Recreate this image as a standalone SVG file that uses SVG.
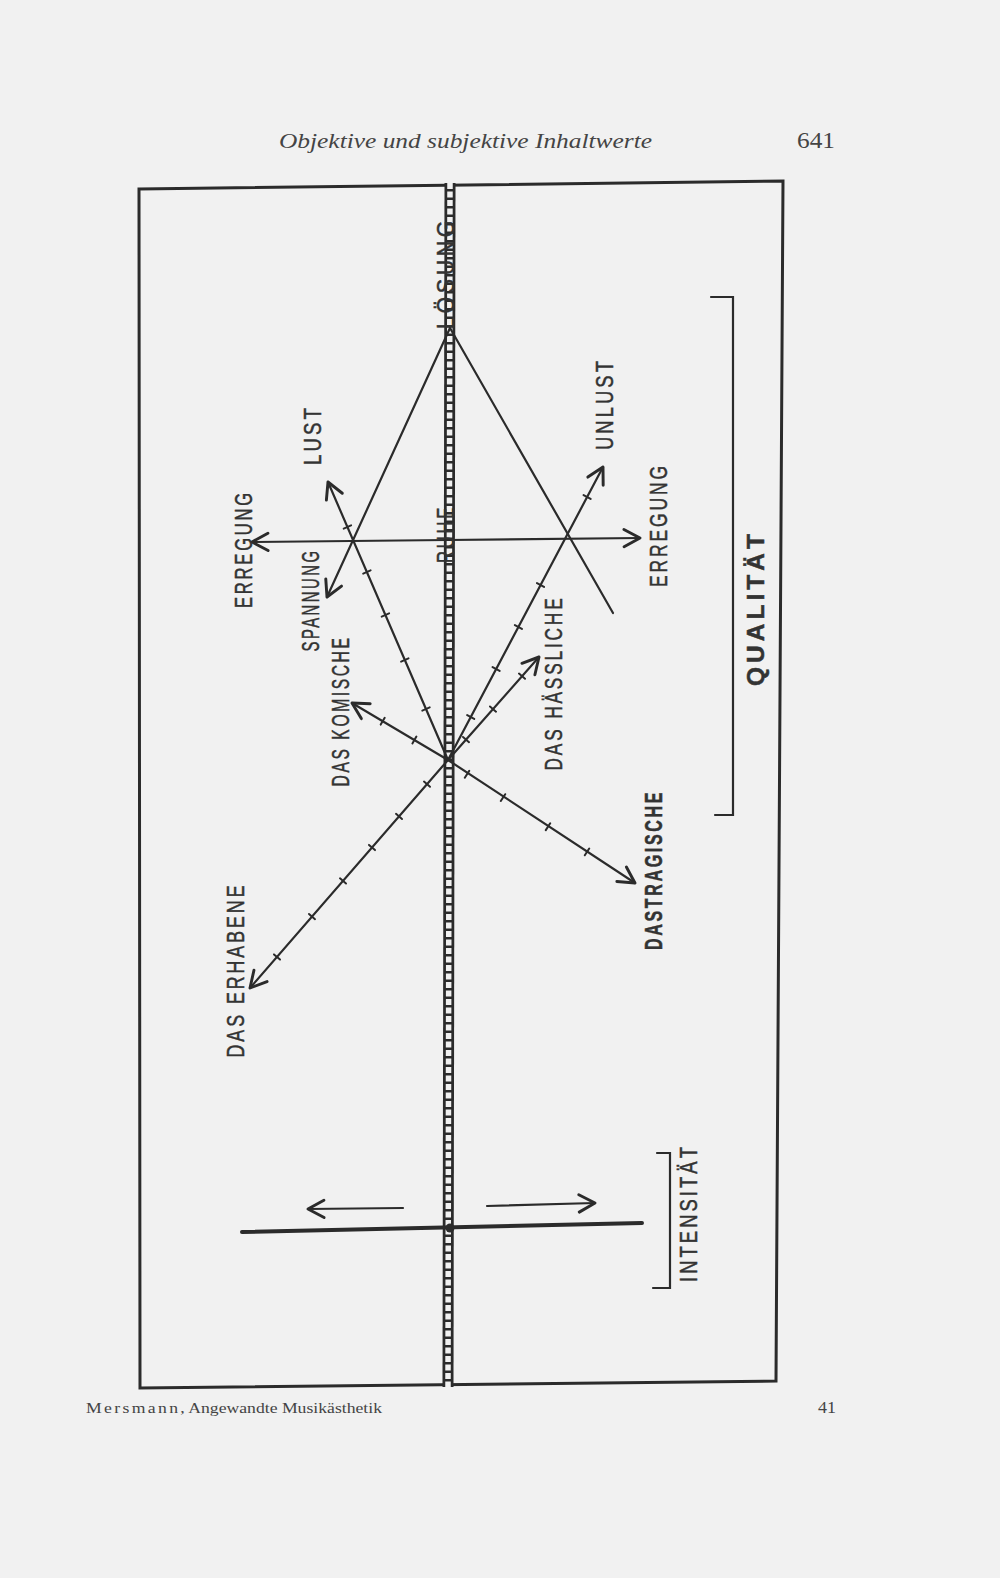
<svg xmlns="http://www.w3.org/2000/svg" width="1000" height="1578" viewBox="0 0 1000 1578">
<defs>
<style>
.ln{fill:none;stroke:#2b2b2b;stroke-width:2.2;stroke-linecap:round}
.tk{fill:none;stroke:#2b2b2b;stroke-width:2;stroke-linecap:round}
.lbl{font-family:"Liberation Sans","DejaVu Sans",sans-serif;font-size:24px;letter-spacing:4px;fill:#333;stroke:#333;stroke-width:0.5px;text-anchor:middle}
.hd{font-family:"Liberation Serif","DejaVu Serif",serif;fill:#444}
</style>
<marker id="arr" markerUnits="userSpaceOnUse" markerWidth="24" markerHeight="24" viewBox="-14 -9 16 18" refX="0" refY="0" orient="auto">
<path d="M-12,-6.5 L0,0 L-12,6.5" fill="none" stroke="#2b2b2b" stroke-width="2.2" stroke-linecap="round" stroke-linejoin="round"/>
</marker>
</defs>
<rect width="1000" height="1578" fill="#f1f1f1"/>

<g id="header">
<text class="hd" x="279" y="148" font-size="21" font-style="italic" textLength="373" lengthAdjust="spacingAndGlyphs">Objektive und subjektive Inhaltwerte</text>
<text class="hd" x="797" y="148" font-size="23" textLength="38" lengthAdjust="spacingAndGlyphs">641</text>
</g>

<g id="frame">
<polygon points="139,189 783,181 776,1381 140,1388" fill="none" stroke="#2b2b2b" stroke-width="3"/>
</g>

<g id="ladder">
<line x1="450" y1="183" x2="448" y2="1387" stroke="#2b2b2b" stroke-width="11"/>
<line x1="450" y1="183" x2="448" y2="1387" stroke="#f1f1f1" stroke-width="5.5" stroke-dasharray="6 2.5"/>
</g>

<g id="connectors">
<line class="ln" x1="448" y1="540" x2="252" y2="542" marker-end="url(#arr)"/>
<line class="ln" x1="448" y1="540" x2="640" y2="538" marker-end="url(#arr)"/>
<line class="ln" x1="450" y1="328" x2="327" y2="597" marker-end="url(#arr)"/>
<line class="ln" x1="450" y1="328" x2="613" y2="613"/>
<line class="ln" x1="448" y1="760" x2="328" y2="482" marker-end="url(#arr)"/>
<line class="ln" x1="448" y1="760" x2="603" y2="467" marker-end="url(#arr)"/>
<line class="ln" x1="448" y1="760" x2="352" y2="703" marker-end="url(#arr)"/>
<line class="ln" x1="448" y1="760" x2="250" y2="988" marker-end="url(#arr)"/>
<line class="ln" x1="448" y1="760" x2="539" y2="657" marker-end="url(#arr)"/>
<line class="ln" x1="448" y1="760" x2="635" y2="883" marker-end="url(#arr)"/>
<path class="tk" d="M422.3,710.6 l7.4,-3.2 M401.1,661.6 l7.4,-3.2 M381.7,616.6 l7.4,-3.2 M363.2,573.6 l7.4,-3.2 M343.7,528.6 l7.4,-3.2"/>
<path class="tk" d="M467.2,715.1 l7,3.8 M492.6,667.1 l7,3.8 M514.9,625.1 l7,3.8 M537,583.1 l7,3.8 M583.6,495.1 l7,3.8"/>
<path class="tk" d="M412.4,743.4 l4,-6.8 M380.7,724.6 l4,-6.8"/>
<path class="tk" d="M424,781.6 l6,5.2 M396,813.8 l6,5.2 M369,844.9 l6,5.2 M340,878.3 l6,5.2 M309,914 l6,5.2 M274,954.4 l6,5.2"/>
<path class="tk" d="M463,737 l6,5.2 M490,706.5 l6,5.2 M519,673.6 l6,5.2"/>
<path class="tk" d="M469.2,770.9 l-4.4,6.8 M505.2,794.2 l-4.4,6.8 M550.2,823.3 l-4.4,6.8 M589.2,848.5 l-4.4,6.8"/>
<line x1="242" y1="1232" x2="642" y2="1223" stroke="#2b2b2b" stroke-width="4" stroke-linecap="round"/>
<circle cx="450" cy="1228" r="4.5" fill="#2b2b2b"/>
<line class="ln" x1="403" y1="1208" x2="308" y2="1209" marker-end="url(#arr)"/>
<line class="ln" x1="487" y1="1206" x2="595" y2="1203" marker-end="url(#arr)"/>
<path class="ln" d="M711,297 L733,297 L733,815 L715,815" stroke-width="2.5"/>
<path class="ln" d="M657,1153 L670,1153 L670,1288 L653,1288" stroke-width="2.5"/>
</g>

<g id="loesung"><text class="lbl" transform="translate(454,273) rotate(-90)" textLength="112" lengthAdjust="spacingAndGlyphs" font-size="26">LÖSUNG</text></g>
<g id="ruhe"><text class="lbl" transform="translate(454,534) rotate(-90)" textLength="58" lengthAdjust="spacingAndGlyphs">RUHE</text></g>
<g id="erregung-links"><text class="lbl" transform="translate(252,549) rotate(-90)" textLength="118" lengthAdjust="spacingAndGlyphs">ERREGUNG</text></g>
<g id="lust"><text class="lbl" transform="translate(321,435) rotate(-90)" textLength="60" lengthAdjust="spacingAndGlyphs">LUST</text></g>
<g id="spannung"><text class="lbl" transform="translate(319,600) rotate(-90)" textLength="103" lengthAdjust="spacingAndGlyphs">SPANNUNG</text></g>
<g id="komische"><text class="lbl" transform="translate(349,711) rotate(-90)" textLength="151" lengthAdjust="spacingAndGlyphs">DAS KOMISCHE</text></g>
<g id="erhabene"><text class="lbl" transform="translate(244,970) rotate(-90)" textLength="175" lengthAdjust="spacingAndGlyphs">DAS ERHABENE</text></g>
<g id="unlust"><text class="lbl" transform="translate(613,404) rotate(-90)" textLength="92" lengthAdjust="spacingAndGlyphs">UNLUST</text></g>
<g id="erregung-rechts"><text class="lbl" transform="translate(667,525) rotate(-90)" textLength="124" lengthAdjust="spacingAndGlyphs">ERREGUNG</text></g>
<g id="haessliche"><text class="lbl" transform="translate(562,683) rotate(-90)" textLength="175" lengthAdjust="spacingAndGlyphs">DAS HÄSSLICHE</text></g>
<g id="tragische"><text class="lbl" transform="translate(662,870) rotate(-90)" textLength="160" lengthAdjust="spacingAndGlyphs" font-weight="bold" letter-spacing="3">DASTRAGISCHE</text></g>
<g id="qualitaet"><text class="lbl" transform="translate(764,608) rotate(-90)" textLength="156" lengthAdjust="spacingAndGlyphs" font-size="30" font-weight="bold" letter-spacing="0">QUALITÄT</text></g>
<g id="intensitaet"><text class="lbl" transform="translate(697,1213) rotate(-90)" textLength="138" lengthAdjust="spacingAndGlyphs">INTENSITÄT</text></g>

<g id="footer">
<text class="hd" x="86" y="1413" font-size="15" textLength="296" lengthAdjust="spacingAndGlyphs"><tspan letter-spacing="2">Mersmann</tspan>, Angewandte Musikästhetik</text>
<text class="hd" x="818" y="1413" font-size="17" textLength="18" lengthAdjust="spacingAndGlyphs">41</text>
</g>
</svg>
